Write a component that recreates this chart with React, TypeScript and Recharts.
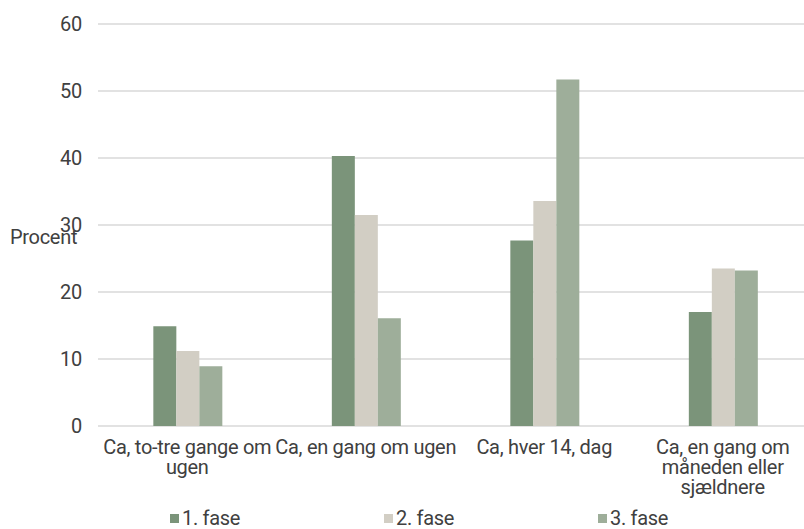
import { BarChart, Bar, XAxis, YAxis, CartesianGrid, Legend, Text } from 'recharts';

const categories = [
  'Ca, to-tre gange om ugen',
  'Ca, en gang om ugen',
  'Ca, hver 14, dag',
  'Ca, en gang om måneden eller sjældnere',
];
const fase1 = [14.9, 40.3, 27.7, 17.0];
const fase2 = [11.2, 31.5, 33.6, 23.5];
const fase3 = [8.9, 16.1, 51.7, 23.2];
const yTicks = [0, 10, 20, 30, 40, 50, 60];

const series = [
  { key: 'f1', name: '1. fase', color: '#7b947a' },
  { key: 'f2', name: '2. fase', color: '#d2cec4' },
  { key: 'f3', name: '3. fase', color: '#9eae9a' },
];

const data = categories.map((c, i) => ({ cat: c, f1: fase1[i], f2: fase2[i], f3: fase3[i] }));

const font = 'Roboto, sans-serif';
const textColor = '#404040';
const fs = 20;
const textStyle = { fontSize: fs, fontFamily: font, letterSpacing: -0.3 };

function CatTick(props: any) {
  const { x, y, payload } = props;
  return (
    <Text
      x={x}
      y={y}
      width={160}
      textAnchor="middle"
      verticalAnchor="start"
      lineHeight={20}
      fill={textColor}
      style={textStyle}
      fontSize={fs}
      fontFamily={font}
    >
      {payload.value}
    </Text>
  );
}

function LegendBox() {
  return (
    <div style={{ display: 'flex', paddingLeft: 170, paddingTop: 10, color: textColor, ...textStyle }}>
      {series.map((s) => (
        <div key={s.key} style={{ width: 217.5, display: 'flex', alignItems: 'center' }}>
          <span style={{ width: 9, height: 9, background: s.color, marginRight: 3, display: 'inline-block' }} />
          <span>{s.name}</span>
        </div>
      ))}
    </div>
  );
}

export default function App() {
  return (
    <div style={{ position: 'absolute', left: 0, top: 0, width: 804, height: 529, background: '#fff', overflow: 'hidden' }}>
      <BarChart
        width={812}
        height={529}
        data={data}
        margin={{ top: 24, right: 0, bottom: 0, left: 0 }}
        barCategoryGap="31%"
        barGap={0}
      >
        <CartesianGrid vertical={false} stroke="#d9d9d9" strokeWidth={1.5} />
        <XAxis
          dataKey="cat"
          axisLine={false}
          tickLine={false}
          interval={0}
          height={70}
          tickSize={0}
          tickMargin={14}
          tick={<CatTick />}
        />
        <YAxis
          domain={[0, 60]}
          ticks={yTicks}
          axisLine={false}
          tickLine={false}
          tickSize={0}
          tickMargin={16}
          width={98}
          tick={{ fill: textColor, fontSize: fs, fontFamily: font, letterSpacing: -0.3 }}
          label={{ value: 'Procent', position: 'insideLeft', offset: 10, dy: 12, fill: textColor, fontSize: fs, fontFamily: font, letterSpacing: -0.3 }}
        />
        {series.map((s) => (
          <Bar key={s.key} dataKey={s.key} name={s.name} fill={s.color} isAnimationActive={false} />
        ))}
        <Legend verticalAlign="bottom" height={33} content={() => <LegendBox />} />
      </BarChart>
    </div>
  );
}
